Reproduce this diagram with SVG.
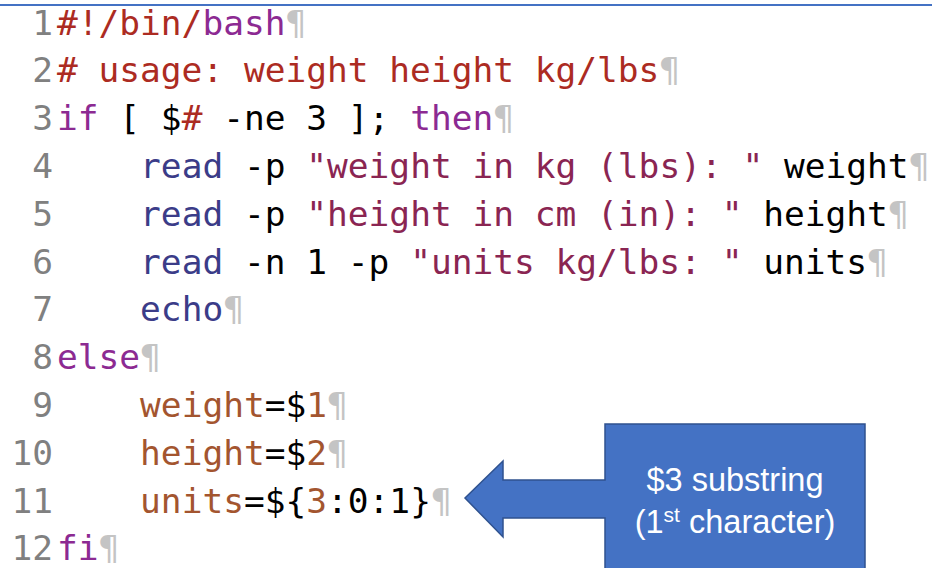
<svg xmlns="http://www.w3.org/2000/svg" width="932" height="568" viewBox="0 0 932 568">
<style>
.code{font-family:"DejaVu Sans Mono","Liberation Mono",monospace;font-size:34.5px;white-space:pre;fill:#000}
.ln{fill:#808080;text-anchor:end}
.pm{fill:#c4c4c4}
.red{fill:#ac2b22}
.kw{fill:#8c2a92}
.bi{fill:#3b3c88}
.st{fill:#8a2552}
.vr{fill:#a3552f}
.lbl{font-family:"Liberation Sans",Arial,sans-serif;font-size:32.5px;fill:#fff;text-anchor:middle}
</style>
<rect width="932" height="568" fill="#fff"/>
<line x1="0" y1="5" x2="932" y2="5" stroke="#4472C4" stroke-width="2"/>
<g id="line-numbers" class="code">
<text class="ln" x="53" y="34.5">1</text>
<text class="ln" x="53" y="82.3">2</text>
<text class="ln" x="53" y="130.1">3</text>
<text class="ln" x="53" y="177.9">4</text>
<text class="ln" x="53" y="225.7">5</text>
<text class="ln" x="53" y="273.5">6</text>
<text class="ln" x="53" y="321.3">7</text>
<text class="ln" x="53" y="369.1">8</text>
<text class="ln" x="53" y="416.9">9</text>
<text class="ln" x="53" y="464.7">10</text>
<text class="ln" x="53" y="512.5">11</text>
<text class="ln" x="53" y="560.3">12</text>
</g>
<g id="code" class="code">
<text x="57" y="34.5" xml:space="preserve"><tspan class="red">#!/bin/</tspan><tspan class="kw">bash</tspan><tspan class="pm">¶</tspan></text>
<text x="57" y="82.3" xml:space="preserve"><tspan class="red"># usage: weight height kg/lbs</tspan><tspan class="pm">¶</tspan></text>
<text x="57" y="130.1" xml:space="preserve"><tspan class="kw">if</tspan> [ $<tspan class="red">#</tspan> -ne 3 ]; <tspan class="kw">then</tspan><tspan class="pm">¶</tspan></text>
<text x="57" y="177.9" xml:space="preserve">    <tspan class="bi">read</tspan> -p <tspan class="st">"weight in kg (lbs): "</tspan> weight<tspan class="pm">¶</tspan></text>
<text x="57" y="225.7" xml:space="preserve">    <tspan class="bi">read</tspan> -p <tspan class="st">"height in cm (in): "</tspan> height<tspan class="pm">¶</tspan></text>
<text x="57" y="273.5" xml:space="preserve">    <tspan class="bi">read</tspan> -n 1 -p <tspan class="st">"units kg/lbs: "</tspan> units<tspan class="pm">¶</tspan></text>
<text x="57" y="321.3" xml:space="preserve">    <tspan class="bi">echo</tspan><tspan class="pm">¶</tspan></text>
<text x="57" y="369.1" xml:space="preserve"><tspan class="kw">else</tspan><tspan class="pm">¶</tspan></text>
<text x="57" y="416.9" xml:space="preserve">    <tspan class="vr">weight</tspan>=$<tspan class="vr">1</tspan><tspan class="pm">¶</tspan></text>
<text x="57" y="464.7" xml:space="preserve">    <tspan class="vr">height</tspan>=$<tspan class="vr">2</tspan><tspan class="pm">¶</tspan></text>
<text x="57" y="512.5" xml:space="preserve">    <tspan class="vr">units</tspan>=${<tspan class="vr">3</tspan>:0:1}<tspan class="pm">¶</tspan></text>
<text x="57" y="560.3" xml:space="preserve"><tspan class="kw">fi</tspan><tspan class="pm">¶</tspan></text>
</g>
<g id="callout">
<path d="M605,424 H865 V572 H605 V518 H503 V537 L465,498 L503,461 V480 H605 Z" fill="#4472C4" stroke="#2F528F" stroke-width="1.5"/>
<text class="lbl" x="735" y="491">$3 substring</text>
<text class="lbl" x="735" y="533">(1<tspan font-size="21" dy="-11">st</tspan><tspan dy="11"> character)</tspan></text>
</g>
</svg>
